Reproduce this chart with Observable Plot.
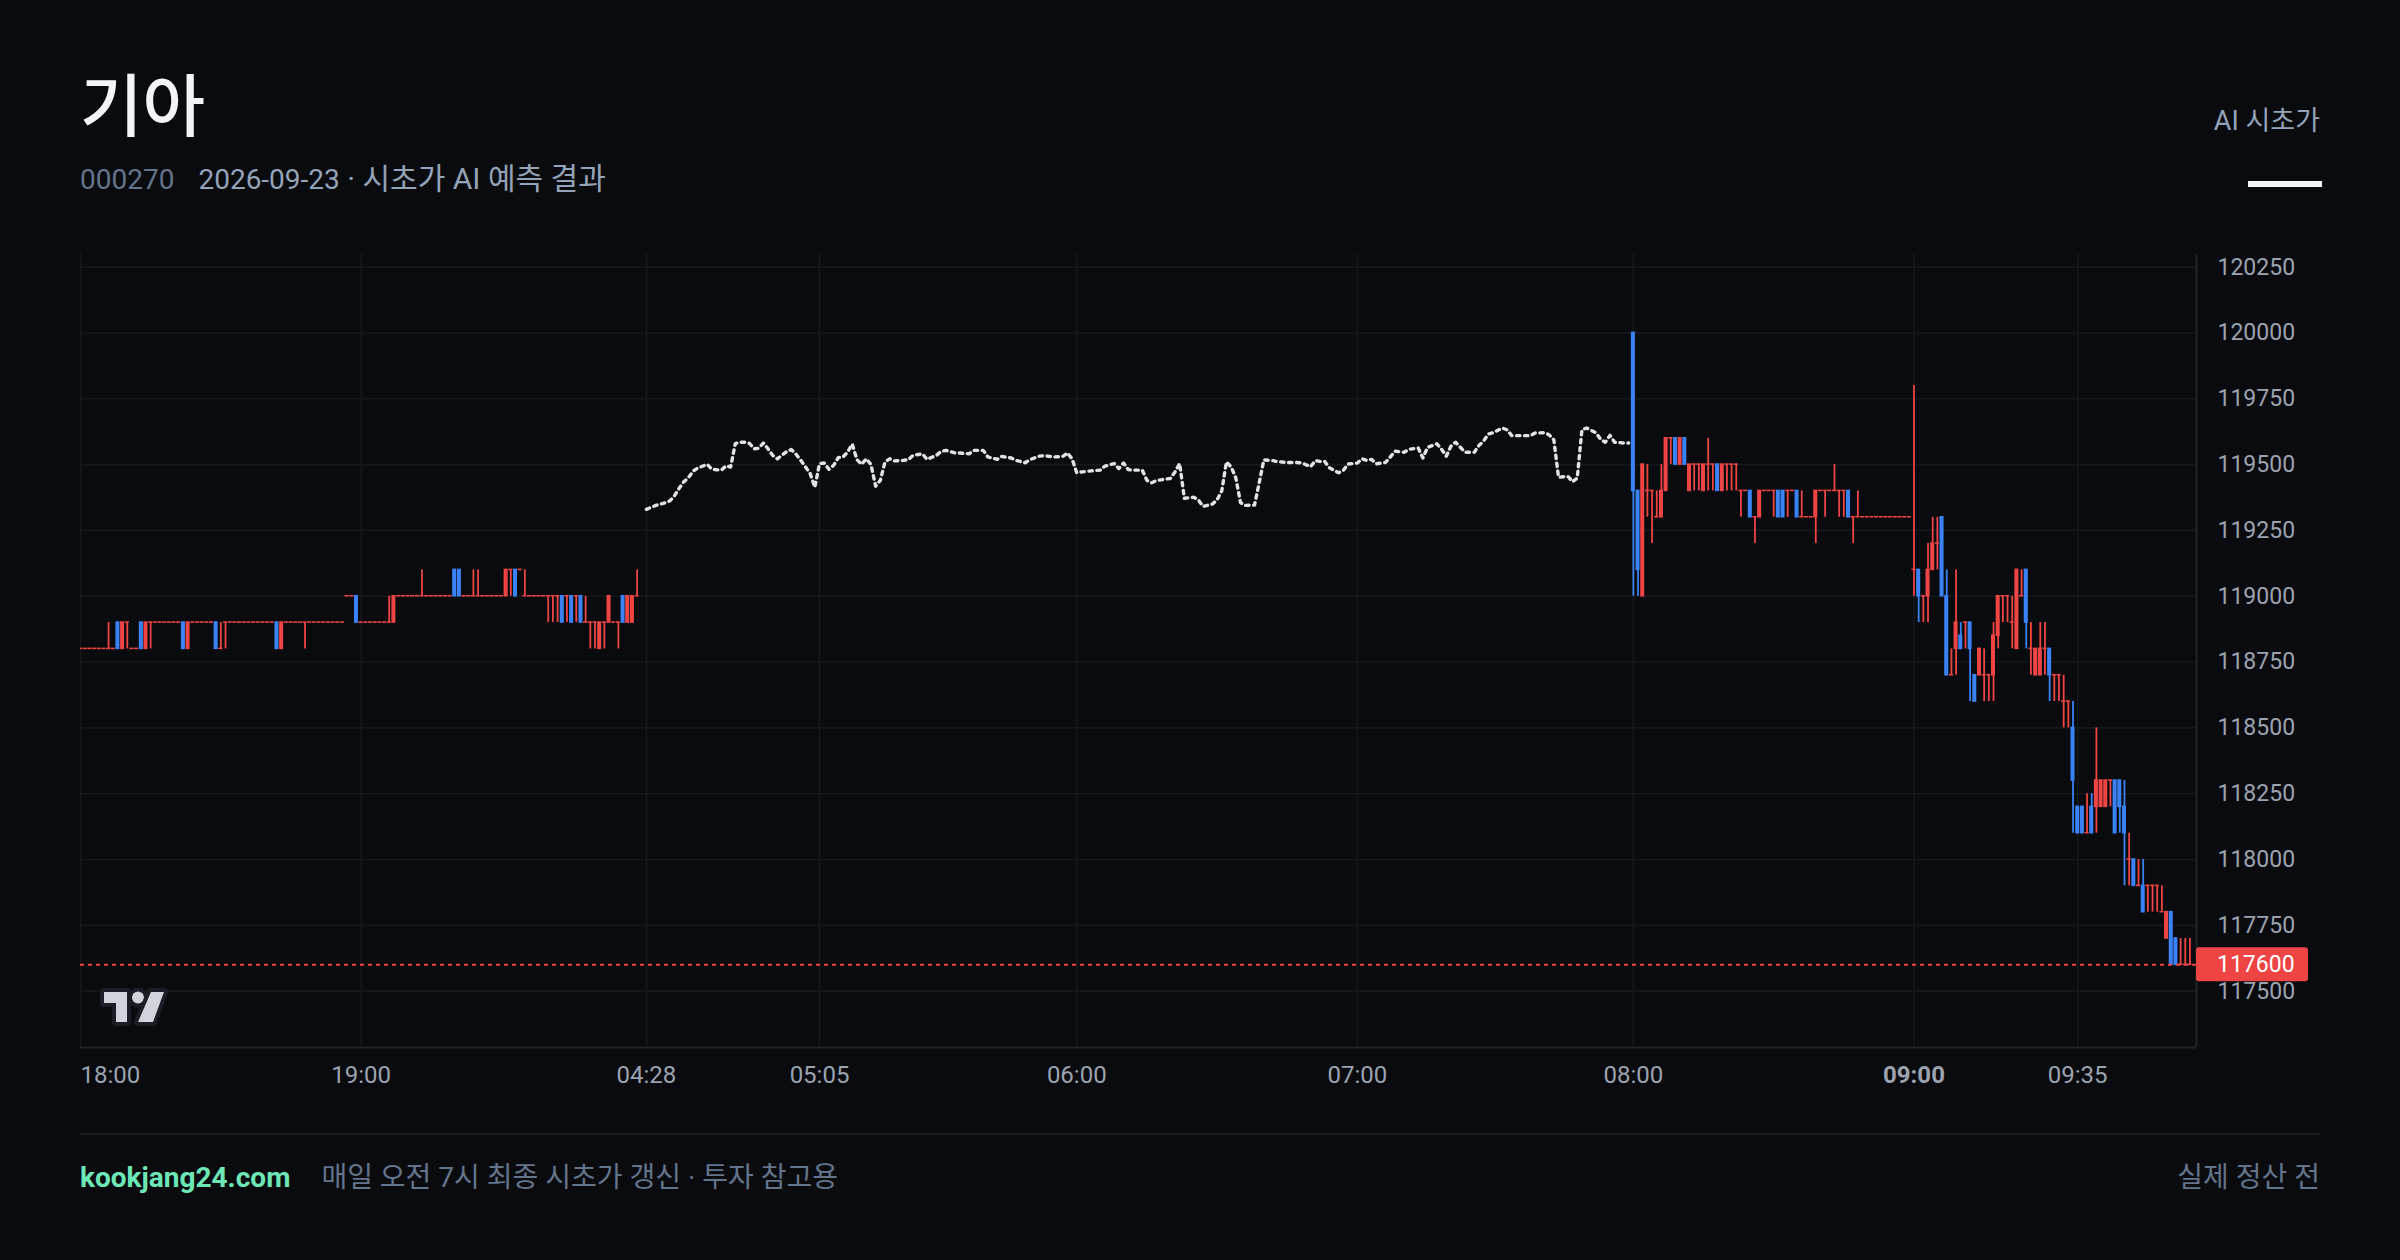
<!DOCTYPE html>
<html><head><meta charset="utf-8">
<script src="https://cdn.jsdelivr.net/npm/d3@7"></script>
<script src="https://cdn.jsdelivr.net/npm/@observablehq/plot@0.6"></script>
<style>
html,body{margin:0;padding:0;background:#090b0f;}
#page{position:relative;width:2400px;height:1260px;background:#090b0f;font-family:Roboto,"Noto Sans CJK KR",sans-serif;overflow:hidden;}
.abs{position:absolute;white-space:nowrap;line-height:1;}
#chart{position:absolute;left:0;top:220px;}
</style></head><body><div id="page">
<div class="abs" id="title" style="left:80px;top:68px;font-size:68px;font-weight:500;color:#f3f4f6;font-family:'Noto Sans CJK KR',sans-serif;"></div>
<div class="abs" id="sub" style="left:80px;top:164px;font-size:28px;"></div>
<div class="abs" id="legendLabel" style="right:80px;top:108px;font-size:27px;color:#94a3b8;"></div>
<div class="abs" style="right:78px;top:181px;width:74px;height:6px;background:#f3f4f6;"></div>
<div id="chart"></div>
<div class="abs" style="left:80px;top:1133px;width:2240px;height:2px;background:#171a20;"></div>
<div class="abs" id="footL" style="left:80px;top:1164px;font-size:28px;"></div>
<div class="abs" id="footR" style="right:80px;top:1164px;font-size:28px;color:#64748b;"></div>
</div>
<script>
// ---------- text ----------
const stockName = "기아";
const ticker = "000270";
const sessionDate = "2026-09-23";
const subtitleText = "시초가 AI 예측 결과";
const legendText = "AI 시초가";
const siteName = "kookjang24.com";
const footerNote = "매일 오전 7시 최종 시초가 갱신 · 투자 참고용";
const footerRight = "실제 정산 전";

// ---------- axes ----------
const sessions = [["18:00", "20:00"], ["04:28", "07:58"], ["08:00", "09:59"]];
const yTicks = [117500, 117750, 118000, 118250, 118500, 118750, 119000, 119250, 119500, 119750, 120000, 120250];
const yDomain = [117286, 120298];
const xTickLabels = ["18:00", "19:00", "04:28", "05:05", "06:00", "07:00", "08:00", "09:00", "09:35"];
const boldTick = "09:00";
const lastPrice = 117600;

// ---------- candles: [time, open, high, low, close] ----------
const eveningBars = [
["18:00",118800,118800,118800,118800],["18:01",118800,118800,118800,118800],["18:02",118800,118800,118800,118800],
["18:03",118800,118800,118800,118800],["18:04",118800,118800,118800,118800],["18:05",118800,118800,118800,118800],
["18:06",118800,118900,118800,118800],["18:07",118800,118800,118800,118800],["18:08",118900,118900,118800,118800],
["18:09",118800,118900,118800,118900],["18:10",118900,118900,118800,118900],["18:11",118800,118800,118800,118800],
["18:12",118800,118800,118800,118800],["18:13",118900,118900,118800,118800],["18:14",118800,118900,118800,118900],
["18:15",118900,118900,118800,118900],["18:16",118900,118900,118900,118900],["18:17",118900,118900,118900,118900],
["18:18",118900,118900,118900,118900],["18:19",118900,118900,118900,118900],["18:20",118900,118900,118900,118900],
["18:21",118900,118900,118900,118900],["18:22",118900,118900,118800,118800],["18:23",118800,118900,118800,118900],
["18:24",118900,118900,118900,118900],["18:25",118900,118900,118900,118900],["18:26",118900,118900,118900,118900],
["18:27",118900,118900,118900,118900],["18:28",118900,118900,118900,118900],["18:29",118900,118900,118800,118800],
["18:30",118800,118900,118800,118800],["18:31",118900,118900,118800,118900],["18:32",118900,118900,118900,118900],
["18:33",118900,118900,118900,118900],["18:34",118900,118900,118900,118900],["18:35",118900,118900,118900,118900],
["18:36",118900,118900,118900,118900],["18:37",118900,118900,118900,118900],["18:38",118900,118900,118900,118900],
["18:39",118900,118900,118900,118900],["18:40",118900,118900,118900,118900],["18:41",118900,118900,118900,118900],
["18:42",118900,118900,118800,118800],["18:43",118800,118900,118800,118900],["18:44",118900,118900,118900,118900],
["18:45",118900,118900,118900,118900],["18:46",118900,118900,118900,118900],["18:47",118900,118900,118900,118900],
["18:48",118900,118900,118800,118900],["18:49",118900,118900,118900,118900],["18:50",118900,118900,118900,118900],
["18:51",118900,118900,118900,118900],["18:52",118900,118900,118900,118900],["18:53",118900,118900,118900,118900],
["18:54",118900,118900,118900,118900],["18:55",118900,118900,118900,118900],["18:56",118900,118900,118900,118900],
["18:57",119000,119000,119000,119000],["18:58",119000,119000,119000,119000],["18:59",119000,119000,118900,118900],
["19:00",118900,118900,118900,118900],["19:01",118900,118900,118900,118900],["19:02",118900,118900,118900,118900],
["19:03",118900,118900,118900,118900],["19:04",118900,118900,118900,118900],["19:05",118900,118900,118900,118900],
["19:06",118900,119000,118900,118900],["19:07",118900,119000,118900,119000],["19:08",119000,119000,119000,119000],
["19:09",119000,119000,119000,119000],["19:10",119000,119000,119000,119000],["19:11",119000,119000,119000,119000],
["19:12",119000,119000,119000,119000],["19:13",119000,119100,119000,119000],["19:14",119000,119000,119000,119000],
["19:15",119000,119000,119000,119000],["19:16",119000,119000,119000,119000],["19:17",119000,119000,119000,119000],
["19:18",119000,119000,119000,119000],["19:19",119000,119000,119000,119000],["19:20",119100,119100,119000,119000],
["19:21",119100,119100,119000,119000],["19:22",119000,119000,119000,119000],["19:23",119000,119000,119000,119000],
["19:24",119000,119100,119000,119000],["19:25",119000,119100,119000,119000],["19:26",119000,119000,119000,119000],
["19:27",119000,119000,119000,119000],["19:28",119000,119000,119000,119000],["19:29",119000,119000,119000,119000],
["19:30",119000,119000,119000,119000],["19:31",119000,119100,119000,119100],["19:32",119100,119100,119000,119100],
["19:33",119100,119100,119000,119000],["19:34",119100,119100,119100,119100],["19:35",119000,119100,119000,119000],
["19:36",119000,119000,119000,119000],["19:37",119000,119000,119000,119000],["19:38",119000,119000,119000,119000],
["19:39",119000,119000,119000,119000],["19:40",119000,119000,118900,119000],["19:41",119000,119000,118900,119000],
["19:42",119000,119000,118900,119000],["19:43",119000,119000,118900,118900],["19:44",119000,119000,118900,119000],
["19:45",119000,119000,118900,118900],["19:46",119000,119000,118900,119000],["19:47",119000,119000,118900,118900],
["19:48",118900,119000,118900,118900],["19:49",118900,118900,118800,118900],["19:50",118900,118900,118800,118900],
["19:51",118800,118900,118800,118900],["19:52",118900,118900,118800,118900],["19:53",118900,119000,118900,119000],
["19:54",118900,118900,118900,118900],["19:55",118900,118900,118800,118900],["19:56",119000,119000,118900,118900],
["19:57",118900,119000,118900,119000],["19:58",118900,119000,118900,119000],["19:59",119000,119100,119000,119000]
];

const preMarketBars = [
["08:00",120000,120000,119000,119400],["08:01",119400,119400,119000,119100],["08:02",119000,119500,119000,119500],
["08:03",119400,119500,119300,119400],["08:04",119400,119400,119200,119400],["08:05",119300,119400,119300,119300],
["08:06",119300,119500,119300,119400],["08:07",119400,119600,119400,119600],["08:08",119600,119600,119500,119600],
["08:09",119600,119600,119500,119500],["08:10",119500,119600,119500,119600],["08:11",119600,119600,119500,119500],
["08:12",119400,119500,119400,119500],["08:13",119500,119500,119400,119500],["08:14",119500,119500,119400,119500],
["08:15",119400,119500,119400,119500],["08:16",119500,119600,119400,119500],["08:17",119500,119500,119400,119500],
["08:18",119500,119500,119400,119400],["08:19",119400,119500,119400,119500],["08:20",119500,119500,119400,119500],
["08:21",119500,119500,119400,119500],["08:22",119500,119500,119400,119500],["08:23",119400,119400,119300,119400],
["08:24",119400,119400,119400,119400],["08:25",119400,119400,119300,119300],["08:26",119300,119300,119200,119300],
["08:27",119300,119400,119300,119400],["08:28",119400,119400,119400,119400],["08:29",119400,119400,119400,119400],
["08:30",119400,119400,119300,119400],["08:31",119400,119400,119300,119300],["08:32",119400,119400,119300,119300],
["08:33",119400,119400,119300,119400],["08:34",119400,119400,119400,119400],["08:35",119400,119400,119300,119300],
["08:36",119300,119400,119300,119300],["08:37",119300,119300,119300,119300],["08:38",119300,119300,119300,119300],
["08:39",119300,119400,119200,119400],["08:40",119400,119400,119400,119400],["08:41",119400,119400,119300,119400],
["08:42",119400,119400,119400,119400],["08:43",119400,119500,119400,119400],["08:44",119400,119400,119300,119400],
["08:45",119400,119400,119300,119400],["08:46",119400,119400,119300,119300],["08:47",119300,119300,119200,119300],
["08:48",119300,119400,119300,119300],["08:49",119300,119300,119300,119300],["08:50",119300,119300,119300,119300],
["08:51",119300,119300,119300,119300],["08:52",119300,119300,119300,119300],["08:53",119300,119300,119300,119300],
["08:54",119300,119300,119300,119300],["08:55",119300,119300,119300,119300],["08:56",119300,119300,119300,119300],
["08:57",119300,119300,119300,119300],["08:58",119300,119300,119300,119300],["08:59",119300,119300,119300,119300]
];

const regularBars = [
["09:00",119100,119800,119000,119100],["09:01",119100,119100,118900,119000],["09:02",119000,119000,118900,119000],
["09:03",119000,119200,118900,119100],["09:04",119100,119300,119100,119200],["09:05",119200,119300,119100,119200],
["09:06",119300,119300,119000,119000],["09:07",119000,119100,118700,118700],["09:08",118700,118800,118700,118700],
["09:09",118800,119100,118700,118900],["09:10",118850,118900,118800,118800],["09:11",118900,118900,118800,118900],
["09:12",118900,118900,118600,118800],["09:13",118700,118700,118600,118600],["09:14",118700,118800,118700,118800],
["09:15",118700,118800,118600,118700],["09:16",118700,118700,118600,118700],["09:17",118700,118900,118600,118850],
["09:18",118850,119000,118800,119000],["09:19",119000,119000,118900,119000],["09:20",119000,119000,118900,119000],
["09:21",118900,119000,118800,118900],["09:22",118800,119100,118800,119100],["09:23",119000,119100,119000,119000],
["09:24",119100,119100,118800,118900],["09:25",118800,118900,118700,118800],["09:26",118700,118800,118700,118800],
["09:27",118700,118900,118700,118800],["09:28",118800,118900,118700,118800],["09:29",118800,118800,118600,118700],
["09:30",118700,118700,118600,118700],["09:31",118700,118700,118600,118700],["09:32",118600,118700,118500,118600],
["09:33",118600,118600,118500,118600],["09:34",118500,118600,118100,118300],["09:35",118200,118200,118100,118100],
["09:36",118200,118200,118100,118100],["09:37",118100,118250,118100,118100],["09:38",118200,118250,118100,118100],
["09:39",118200,118500,118100,118300],["09:40",118200,118300,118200,118300],["09:41",118200,118300,118200,118300],
["09:42",118300,118300,118200,118300],["09:43",118300,118300,118100,118100],["09:44",118300,118300,118100,118200],
["09:45",118200,118300,117900,118100],["09:46",118000,118100,117900,118000],["09:47",118000,118000,117900,117900],
["09:48",117900,118000,117900,117900],["09:49",117900,118000,117800,117800],["09:50",117900,117900,117800,117900],
["09:51",117900,117900,117800,117900],["09:52",117900,117900,117800,117900],["09:53",117800,117900,117800,117800],
["09:54",117700,117800,117700,117800],["09:55",117800,117800,117600,117600],["09:56",117700,117700,117600,117600],
["09:57",117600,117700,117600,117600],["09:58",117600,117700,117600,117600],["09:59",117600,117700,117600,117600]
];

// ---------- AI forecast: [time, value] ----------
const aiForecast = [
["04:28",119330],["04:30",119345],["04:32",119355],["04:33",119362],["04:34",119382],["04:35",119410],["04:36",119435],
["04:37",119451],["04:38",119476],["04:39",119487],["04:41",119501],["04:42",119482],["04:44",119479],["04:45",119495],
["04:46",119491],["04:47",119580],["04:48",119585],["04:49",119585],["04:50",119581],["04:51",119560],["04:52",119562],
["04:53",119582],["04:54",119560],["04:55",119535],["04:56",119522],["04:58",119550],["04:59",119557],["05:00",119539],
["05:01",119516],["05:02",119491],["05:03",119466],["05:04",119414],["05:05",119504],["05:06",119506],["05:07",119482],
["05:08",119497],["05:09",119526],["05:10",119529],["05:11",119547],["05:12",119578],["05:13",119519],["05:14",119501],
["05:15",119522],["05:16",119500],["05:17",119418],["05:18",119440],["05:19",119510],["05:20",119522],["05:21",119514],
["05:23",119516],["05:24",119519],["05:25",119535],["05:27",119541],["05:28",119520],["05:30",119535],["05:31",119550],
["05:32",119554],["05:34",119544],["05:35",119544],["05:37",119541],["05:38",119554],["05:40",119554],["05:41",119529],
["05:43",119520],["05:44",119531],["05:46",119525],["05:47",119516],["05:49",119507],["05:50",119519],["05:52",119532],
["05:53",119534],["05:55",119529],["05:57",119531],["05:58",119544],["05:59",119522],["06:00",119469],["06:01",119472],
["06:03",119476],["06:05",119479],["06:06",119494],["06:08",119504],["06:09",119485],["06:10",119506],["06:11",119481],
["06:12",119479],["06:14",119479],["06:15",119440],["06:16",119431],["06:17",119439],["06:19",119445],["06:20",119447],
["06:21",119472],["06:22",119504],["06:23",119372],["06:25",119376],["06:26",119366],["06:27",119341],["06:29",119350],
["06:30",119366],["06:31",119400],["06:32",119510],["06:33",119491],["06:34",119450],["06:35",119356],["06:36",119345],
["06:38",119346],["06:39",119430],["06:40",119518],["06:42",119515],["06:43",119511],["06:45",119508],["06:47",119508],
["06:48",119507],["06:50",119492],["06:51",119515],["06:52",119512],["06:53",119512],["06:54",119488],["06:56",119469],
["06:57",119478],["06:58",119502],["07:00",119506],["07:01",119522],["07:02",119516],["07:03",119520],["07:04",119503],
["07:06",119508],["07:07",119528],["07:08",119551],["07:10",119547],["07:11",119558],["07:13",119563],["07:14",119525],
["07:15",119565],["07:17",119579],["07:18",119558],["07:19",119532],["07:20",119570],["07:21",119585],["07:22",119566],
["07:23",119547],["07:25",119547],["07:26",119573],["07:27",119590],["07:28",119616],["07:29",119621],["07:31",119639],
["07:32",119632],["07:33",119610],["07:35",119610],["07:37",119610],["07:38",119620],["07:40",119621],["07:41",119613],
["07:42",119594],["07:43",119452],["07:45",119455],["07:46",119435],["07:47",119449],["07:48",119632],["07:49",119639],
["07:51",119621],["07:52",119596],["07:53",119585],["07:54",119611],["07:55",119585],["07:57",119582],["07:58",119582]
];

// ---------- colours ----------
const UP = "#ef4444", DOWN = "#3b82f6", GRID = "#15181d", FRAME = "#21242b", TICK = "#9ca3af";
const FONT = 'Roboto, "Noto Sans CJK KR", sans-serif';

// ---------- header / footer text ----------
document.getElementById("title").textContent = stockName;
document.getElementById("sub").innerHTML =
  `<span style="color:#64748b">${ticker}</span><span style="margin-left:24px;color:#94a3b8">${sessionDate}<span style="font-size:30px"> · ${subtitleText}</span></span>`;
document.getElementById("legendLabel").textContent = legendText;
document.getElementById("footL").innerHTML =
  `<span style="color:#6ee7b7;font-weight:700">${siteName}</span><span style="margin-left:31px;color:#64748b">${footerNote}</span>`;
document.getElementById("footR").textContent = footerRight;

// ---------- slot index (one slot per minute of each session) ----------
const toMin = t => { const [h, m] = t.split(":").map(Number); return h * 60 + m; };
const fmt = m => String(Math.floor(m / 60) % 24).padStart(2, "0") + ":" + String(m % 60).padStart(2, "0");
const slots = [];
for (const [a, b] of sessions) for (let m = toMin(a); m <= toMin(b); m++) slots.push(fmt(m));
const slotIndex = new Map(slots.map((s, i) => [s, i]));

const bars = [...eveningBars, ...preMarketBars, ...regularBars]
  .map(([t, o, h, l, c]) => ({i: slotIndex.get(t), o, h, l, c}));
const upBars = bars.filter(d => d.c >= d.o);
const downBars = bars.filter(d => d.c < d.o);
const HALF = 0.43;

const candleMarks = (data, color) => [
  Plot.ruleX(data.filter(d => d.h > d.l), {x: "i", y1: "l", y2: "h", stroke: color, strokeWidth: 1.8, clip: true}),
  Plot.rect(data, {
    x1: d => d.i - HALF, x2: d => d.i + HALF,
    y1: d => Math.min(d.o, d.c), y2: d => Math.max(d.o, d.c),
    fill: color, insetTop: -0.8, insetBottom: -0.8, clip: true
  })
];

const xDomain = [0, slots.length + 0.4];
const W = 2400, H = 900, ML = 80, MR = 204, MT = 34, MB = 73;

const chart = Plot.plot({
  width: W, height: H,
  marginLeft: ML, marginRight: MR, marginTop: MT, marginBottom: MB,
  style: {background: "transparent", color: TICK, fontFamily: FONT, fontSize: "23px"},
  x: {type: "linear", domain: xDomain, axis: null},
  y: {domain: yDomain, ticks: yTicks, tickFormat: d => String(d), tickSize: 0, tickPadding: 21, axis: "right", label: null},
  marks: [
    Plot.ruleY(yTicks, {stroke: GRID, strokeWidth: 1.6}),
    Plot.ruleX(xTickLabels, {x: d => slotIndex.get(d), stroke: GRID, strokeWidth: 1.6}),
    Plot.ruleY([yDomain[0]], {stroke: FRAME, strokeWidth: 2}),
    Plot.ruleX([xDomain[1]], {stroke: FRAME, strokeWidth: 2}),
    Plot.line(aiForecast, {x: d => slotIndex.get(d[0]), y: d => d[1], stroke: "#e2e3e6", strokeWidth: 3.4, strokeDasharray: "3.4,4.6"}),
    ...candleMarks(upBars, UP),
    ...candleMarks(downBars, DOWN),
    Plot.ruleY([lastPrice], {stroke: UP, strokeWidth: 2, strokeDasharray: "4,4"}),
    Plot.text(xTickLabels.filter((d, k) => k === 0), {x: d => slotIndex.get(d), text: d => d, frameAnchor: "bottom", dy: 27.5, lineAnchor: "middle", textAnchor: "start", fill: TICK, fontSize: 24}),
    Plot.text(xTickLabels.filter((d, k) => k > 0 && d !== boldTick), {x: d => slotIndex.get(d), text: d => d, frameAnchor: "bottom", dy: 27.5, lineAnchor: "middle", fill: TICK, fontSize: 24}),
    Plot.text(xTickLabels.filter(d => d === boldTick), {x: d => slotIndex.get(d), text: d => d, frameAnchor: "bottom", dy: 27.5, lineAnchor: "middle", fill: TICK, fontWeight: "bold", fontSize: 24})
  ]
});
document.getElementById("chart").appendChild(chart);

// ---------- last price tag, positioned with the chart's own y scale ----------
const svg = d3.select(chart);
const yPix = chart.scale("y").apply(lastPrice);
const tag = svg.append("g");
tag.append("rect").attr("x", W - MR).attr("y", yPix - 17).attr("width", 112).attr("height", 34).attr("rx", 3).attr("fill", UP);
tag.append("text").attr("x", W - MR + 21).attr("y", yPix).attr("dy", "0.35em").attr("fill", "#ffffff")
  .attr("text-anchor", "start").attr("font-size", 23).attr("font-family", FONT).text(String(lastPrice));

// ---------- TradingView-style watermark logo ----------
const lx = ML + 24, ly = H - MB - 55;
const logo = svg.append("g").attr("transform", `translate(${lx},${ly})`)
  .attr("fill", "#d1d4dc").attr("stroke", "#1b1e26").attr("stroke-width", 8).attr("stroke-linejoin", "round").attr("paint-order", "stroke");
logo.append("path").attr("d", "M0,0 H23 V30 H12 V11 H0 Z");
logo.append("circle").attr("cx", 34).attr("cy", 5.5).attr("r", 6);
logo.append("path").attr("d", "M47,0 H60 L49,30 H34 Z");
</script>
</body></html>
